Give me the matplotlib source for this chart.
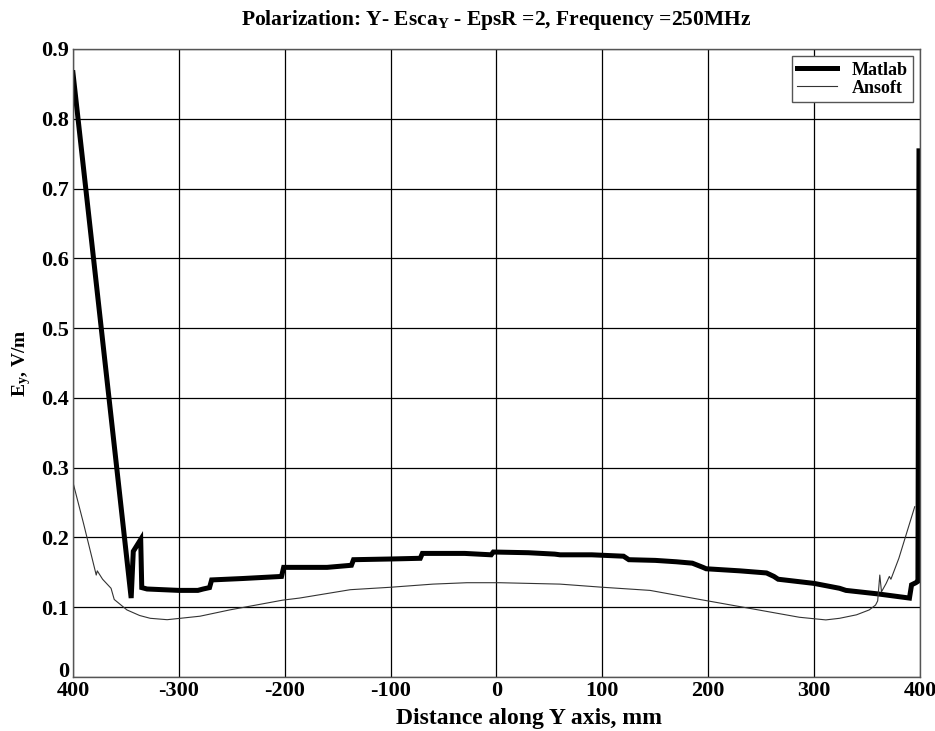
import numpy as np
import matplotlib
matplotlib.use("Agg")
import matplotlib.pyplot as plt
import matplotlib.transforms as mtransforms

# fonts: Times-like bold everywhere
plt.rcParams['font.family'] = ['Liberation Serif', 'DejaVu Serif']
plt.rcParams['font.weight'] = 'bold'
plt.rcParams['mathtext.fontset'] = 'custom'
plt.rcParams['mathtext.rm'] = 'Liberation Serif:bold'
plt.rcParams['mathtext.it'] = 'Liberation Serif:bold'
plt.rcParams['mathtext.bf'] = 'Liberation Serif:bold'

# --- data ---
matlab_x = [-400, -345, -343, -336, -335, -330, -300, -282, -277, -271, -269,
            -240, -203, -201, -160, -137, -135, -100, -72, -70, -30, -5, -3,
            30, 55, 60, 90, 120, 125, 150, 170, 185, 190, 195, 198, 230, 255,
            262, 266, 300, 324, 330, 360, 390, 392, 396, 398, 399]
matlab_y = [0.866, 0.113, 0.180, 0.197, 0.128, 0.126, 0.124, 0.124, 0.126, 0.128, 0.139,
            0.141, 0.144, 0.157, 0.157, 0.160, 0.168, 0.169, 0.170, 0.177, 0.177, 0.175, 0.179,
            0.178, 0.176, 0.175, 0.175, 0.173, 0.168, 0.167, 0.165, 0.163, 0.160, 0.157, 0.155, 0.152, 0.149,
            0.144, 0.140, 0.134, 0.127, 0.124, 0.119, 0.113, 0.132, 0.135, 0.137, 0.754]

ansoft_x = [-400, -390, -378, -377, -372, -364, -361, -349, -337, -327, -311,
            -280, -252, -202, -186, -138, -100, -60, -28, 3, 60, 100, 145,
            192, 240, 286, 311, 324, 340, 352, 358, 360, 362, 363.6, 368, 371,
            372.5, 380, 395]
ansoft_y = [0.279, 0.220, 0.146, 0.152, 0.140, 0.127, 0.111, 0.096, 0.088, 0.084, 0.082,
            0.087, 0.096, 0.110, 0.113, 0.125, 0.1285, 0.133, 0.135, 0.135, 0.133, 0.1285, 0.124,
            0.111, 0.098, 0.0855, 0.0817, 0.084, 0.089, 0.096, 0.103, 0.109, 0.146, 0.122, 0.134, 0.144,
            0.140, 0.170, 0.244]

xticks = [-400, -300, -200, -100, 0, 100, 200, 300, 400]
xtick_labels = ['400', '-300', '-200', '-100', '0', '100', '200', '300', '400']
yticks = [0, 0.1, 0.2, 0.3, 0.4, 0.5, 0.6, 0.7, 0.8, 0.9]
ytick_labels = ['0', '0.1', '0.2', '0.3', '0.4', '0.5', '0.6', '0.7', '0.8', '0.9']

fig = plt.figure(figsize=(9.35, 7.31), dpi=100)
ax = fig.add_axes([0.078, 0.074, 0.906, 0.859])

ax.plot(matlab_x, matlab_y, color='black', lw=3.6, label='Matlab', solid_joinstyle='miter')
ax.plot(ansoft_x, ansoft_y, color='#333333', lw=0.8, label='Ansoft')

ax.set_xlim(-400, 400)
ax.set_ylim(0, 0.9)
ax.set_xticks(xticks)
ax.set_xticklabels(xtick_labels)
ax.set_yticks(yticks)
ax.set_yticklabels(ytick_labels)
ax.tick_params(length=0, labelsize=16, pad=3)
ax.grid(True, color='black', lw=0.9)
ax.set_axisbelow(True)
for s in ax.spines.values():
    s.set_color('#555555')
    s.set_linewidth(1.0)

# the "0" sits just above the "400" in the corner
zero_lbl = ax.get_yticklabels()[0]
zero_lbl.set_transform(zero_lbl.get_transform() +
                       mtransforms.ScaledTranslation(0, 7 / 100, fig.dpi_scale_trans))

ax.set_title(r'Polarization: Y- Esca$_{\rm Y}$ - EpsR =2, Frequency =250MHz',
             fontsize=15.5, fontweight='bold', pad=17)
ax.set_xlabel('Distance along Y axis, mm', fontsize=17, fontweight='bold', labelpad=0)
ax.xaxis.set_label_coords(0.538, -0.049)
ax.set_ylabel(r'E$_{\rm y}$, V/m', fontsize=14, fontweight='bold', labelpad=6)

leg = ax.legend(loc='upper right', fontsize=13, fancybox=False, framealpha=1,
                edgecolor='#555555', handlelength=2.2, borderpad=0.3,
                labelspacing=0.05, borderaxespad=0.4)
leg.get_frame().set_linewidth(1.0)

plt.savefig('out.png', dpi=100)
